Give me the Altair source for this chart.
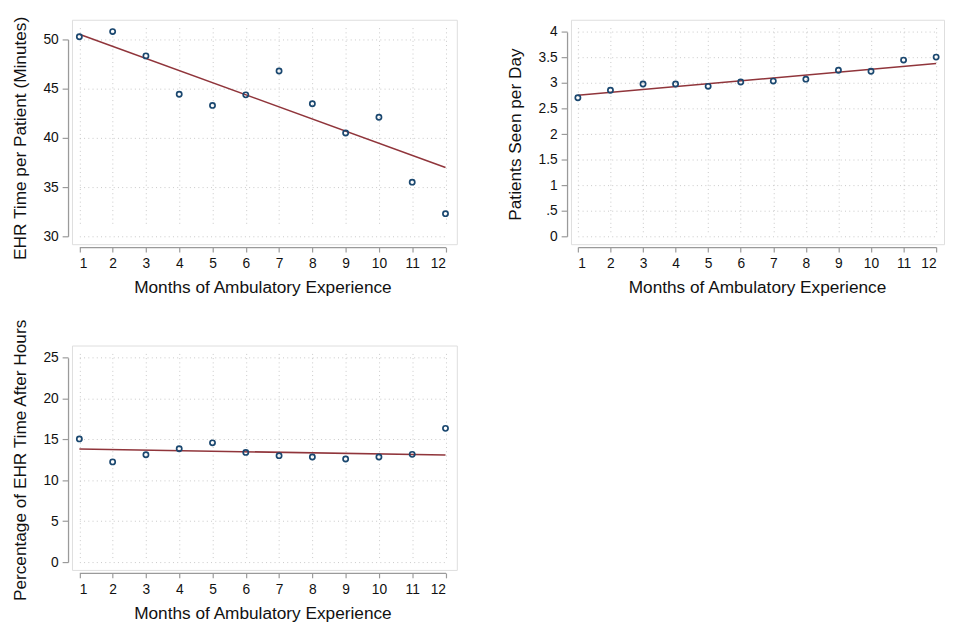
import altair as alt
import pandas as pd

# ---------------- data ----------------
months = [1, 2, 3, 4, 5, 6, 7, 8, 9, 10, 11, 12]
ehr_time = [50.27, 50.8, 48.33, 44.43, 43.3, 44.37, 46.8, 43.47, 40.5, 42.1, 35.5, 32.3]
patients = [2.71, 2.857, 2.979, 2.979, 2.934, 3.018, 3.037, 3.075, 3.249, 3.23, 3.448, 3.506]
after_hours = [15.07, 12.26, 13.14, 13.87, 14.59, 13.42, 13.02, 12.86, 12.62, 12.86, 13.18, 16.36]

fit_months = [1, 12]
ehr_fit = [50.53, 37.0]
patients_fit = [2.76, 3.38]
after_hours_fit = [13.83, 13.1]

ehr_ticks = [30, 35, 40, 45, 50]
patients_ticks = [0, 0.5, 1, 1.5, 2, 2.5, 3, 3.5, 4]
after_hours_ticks = [0, 5, 10, 15, 20, 25]

x_title = "Months of Ambulatory Experience"

FONT = "Liberation Sans"
POINT_COLOR = "#1a476f"
LINE_COLOR = "#90353b"
AXIS_COLOR = "#9a9a9a"
GRID_COLOR = "#c8c8c8"


def panel(values, fit, yticks, ytitle, width, height, xrange, yrange, label_expr=None):
    df = pd.DataFrame({"month": months, "value": values})
    fdf = pd.DataFrame({"month": fit_months, "value": fit})
    xs = alt.Scale(domain=[1, 12], range=xrange, nice=False, zero=False)
    ys = alt.Scale(domain=[yticks[0], yticks[-1]], range=yrange, nice=False, zero=False)
    xaxis = alt.Axis(
        values=months, title=x_title, offset=3, tickSize=5, tickWidth=1.2,
        domainColor=AXIS_COLOR, tickColor=AXIS_COLOR, domainWidth=1.3,
        grid=True, gridDash=[1, 3.3], gridColor=GRID_COLOR, gridWidth=1,
        labelFont=FONT, labelFontSize=14, labelColor="#111", labelPadding=5,
        titleFont=FONT, titleFontSize=17.5, titleFontWeight="normal",
        titleColor="#111", titlePadding=8,
    )
    yargs = dict(
        values=yticks, title=ytitle, offset=4, tickSize=6, tickWidth=1.2,
        domainColor=AXIS_COLOR, tickColor=AXIS_COLOR, domainWidth=1.3,
        grid=True, gridDash=[1, 3.3], gridColor=GRID_COLOR, gridWidth=1,
        labelFont=FONT, labelFontSize=14, labelColor="#111", labelPadding=4,
        titleFont=FONT, titleFontSize=17.5, titleFontWeight="normal",
        titleColor="#111", titlePadding=14,
    )
    if label_expr:
        yargs["labelExpr"] = label_expr
    yaxis = alt.Axis(**yargs)

    pts = alt.Chart(df).mark_point(
        shape="circle", filled=False, color=POINT_COLOR, strokeWidth=1.7, size=28, opacity=1
    ).encode(
        x=alt.X("month:Q", scale=xs, axis=xaxis),
        y=alt.Y("value:Q", scale=ys, axis=yaxis),
    )
    line = alt.Chart(fdf).mark_line(color=LINE_COLOR, strokeWidth=1.6).encode(
        x=alt.X("month:Q", scale=xs, axis=xaxis),
        y=alt.Y("value:Q", scale=ys, axis=yaxis),
    )
    return alt.layer(line, pts).properties(width=width, height=height)


p1 = panel(ehr_time, ehr_fit, ehr_ticks, "EHR Time per Patient (Minutes)",
           391, 228, [7.5, 379.5], [220, 20])
p2 = panel(patients, patients_fit, patients_ticks, "Patients Seen per Day",
           379, 228, [7, 371], [220, 12.3],
           label_expr="datum.value == 0.5 ? '.5' : format(datum.value, '~g')")
p3 = panel(after_hours, after_hours_fit, after_hours_ticks, "Percentage of EHR Time After Hours",
           391, 228, [7.5, 379.5], [220, 12.4])

chart = alt.concat(
    p1, p2, p3, columns=2,
    spacing={"row": 103, "column": 116},
    bounds="flush",
).properties(
    padding={"top": 2, "left": 2, "right": 0, "bottom": 0}
).configure_view(stroke=None).configure(background="white")

chart.save("out.html", embed_options={"renderer": "svg", "actions": False})
